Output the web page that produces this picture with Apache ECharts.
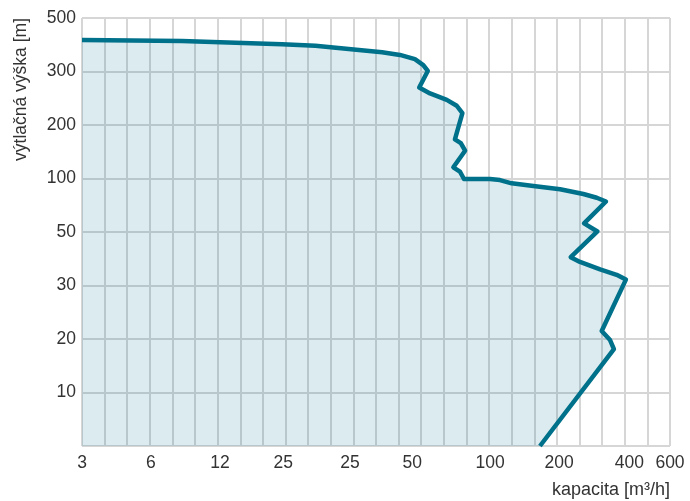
<!DOCTYPE html>
<html>
<head>
<meta charset="utf-8">
<script src="https://cdn.jsdelivr.net/npm/echarts@6/dist/echarts.min.js"></script>
<style>
html,body{margin:0;padding:0;background:#fff;}
#chart{width:690px;height:501px;}
</style>
</head>
<body>
<div id="chart"></div>
<script>
// Axis tick labels (x positions are in grid-cell units along the capacity axis)
const xTickLabels = ['3', '6', '12', '25', '25', '50', '100', '200', '400', '600'];
const xTickPos = [0, 3.05, 6.1, 8.9, 11.85, 14.6, 18.05, 21.1, 24.2, 26];
const yTickLabels = ['', '10', '20', '30', '50', '100', '200', '300', '500'];

// Envelope curve, in axis units (capacity position, head position)
const capacityPos = [0, 4.42, 8.84, 10.32, 11.79, 13.27, 14.06, 14.72, 15.09, 15.29,
  14.91, 15.39, 16.13, 16.57, 16.82, 16.49, 16.75, 16.94, 16.42, 16.71,
  16.89, 18.04, 18.48, 19.0, 19.96, 21.14, 22.17, 22.76, 23.17, 22.2,
  22.79, 21.61, 22.02, 22.91, 23.64, 24.05, 22.98, 23.35, 23.52, 20.25];
const headPos = [7.59, 7.57, 7.51, 7.48, 7.42, 7.36, 7.31, 7.23, 7.12, 7.01,
  6.70, 6.59, 6.47, 6.36, 6.22, 5.73, 5.66, 5.52, 5.21, 5.13,
  4.99, 4.99, 4.97, 4.91, 4.86, 4.80, 4.71, 4.64, 4.57, 4.16,
  4.01, 3.53, 3.44, 3.30, 3.20, 3.11, 2.15, 1.98, 1.81, 0];

const curve = capacityPos.map((x, i) => [x, headPos[i]]);
const FONT = 'Liberation Sans, Arial, sans-serif';

const chart = echarts.init(document.getElementById('chart'), null, {renderer: 'canvas'});
chart.setOption({
  animation: false,
  backgroundColor: '#fff',
  grid: {left: 82, right: 20, top: 18, bottom: 55, containLabel: false},
  xAxis: [{
    type: 'value', min: 0, max: 26, interval: 1,
    axisLine: {show: false}, axisTick: {show: false},
    axisLabel: {show: false},
    splitLine: {show: true, lineStyle: {color: '#d6d6d6', width: 2}}
  }, {
    type: 'value', min: 0, max: 26, interval: 0.05, position: 'bottom',
    axisLine: {show: false}, axisTick: {show: false},
    splitLine: {show: false},
    axisLabel: {
      show: true, color: '#333', fontSize: 17.5, fontFamily: FONT, margin: 8,
      formatter: function (v) {
        for (let i = 0; i < xTickPos.length; i++) {
          if (Math.abs(v - xTickPos[i]) < 0.01) return xTickLabels[i];
        }
        return '';
      }
    }
  }],
  yAxis: {
    type: 'value', min: 0, max: 8, interval: 1,
    axisLine: {show: false}, axisTick: {show: false},
    axisLabel: {
      color: '#333', fontSize: 17.5, fontFamily: FONT, margin: 6,
      formatter: function (v) { return yTickLabels[Math.round(v)] || ''; }
    },
    splitLine: {show: true, lineStyle: {color: '#d6d6d6', width: 2}}
  },
  graphic: [{
    type: 'text', right: 20, top: 481,
    style: {text: 'kapacita [m³/h]', fill: '#333', font: '18px ' + FONT}
  }, {
    type: 'text', x: 12, y: 18, rotation: Math.PI / 2,
    style: {text: 'výtlačná výška [m]', fill: '#333', font: '17.5px ' + FONT,
      align: 'right', verticalAlign: 'top'}
  }],
  series: [{
    type: 'line', xAxisIndex: 0, yAxisIndex: 0,
    data: curve, showSymbol: false, symbol: 'none', smooth: false,
    lineStyle: {color: '#00718b', width: 4.5, join: 'round'},
    areaStyle: {color: 'rgba(0,115,140,0.2)', origin: 'start'},
    z: 3
  }]
});
</script>
</body>
</html>
